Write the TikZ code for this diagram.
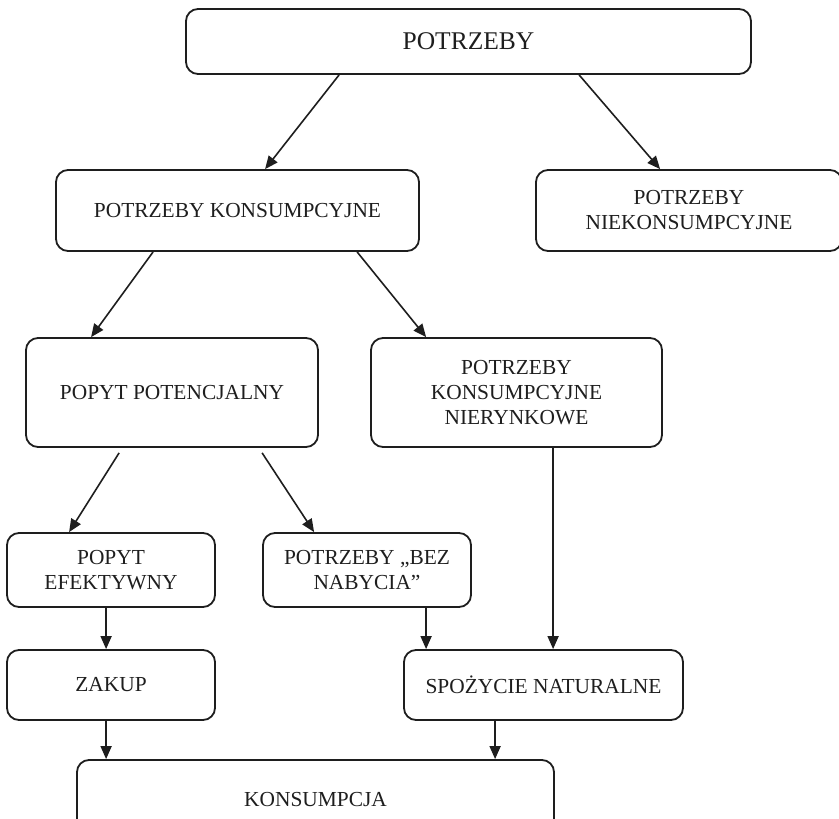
\documentclass[tikz,border=0pt]{standalone}
\usepackage{fontspec}
\setmainfont{Liberation Serif}
\usetikzlibrary{arrows.meta}
\definecolor{ink}{HTML}{1E1E1E}
\begin{document}
\begin{tikzpicture}[x=1pt,y=-1pt,
  box/.style={draw=ink, line width=1.8pt, rounded corners=12pt, inner sep=0pt,
    text=ink, align=center, font=\fontsize{21.4}{25}\selectfont},
  titlebox/.style={box, font=\fontsize{25.5}{30}\selectfont},
  arr/.style={draw=ink, line width=1.6pt, -{Triangle[length=13pt,width=11pt]}}]
\useasboundingbox (0,0) rectangle (839,819);
\clip (0,0) rectangle (839,819);
\node[titlebox, minimum width=565pt, minimum height=65pt] (top) at (468.5,41.5) {POTRZEBY};
\node[box, minimum width=363pt, minimum height=81pt] (pk) at (237.5,210.5) {POTRZEBY KONSUMPCYJNE};
\node[box, minimum width=306pt, minimum height=81pt] (pn) at (689,210.5) {POTRZEBY\\NIEKONSUMPCYJNE};
\node[box, minimum width=292pt, minimum height=109pt] (pp) at (172,392.5) {POPYT POTENCJALNY};
\node[box, minimum width=291pt, minimum height=109pt] (nr) at (516.5,392.5) {POTRZEBY\\KONSUMPCYJNE\\NIERYNKOWE};
\node[box, minimum width=208pt, minimum height=74pt] (pe) at (111,570) {POPYT\\EFEKTYWNY};
\node[box, minimum width=208pt, minimum height=74pt] (bez) at (367,570) {POTRZEBY „BEZ\\NABYCIA”};
\node[box, minimum width=208pt, minimum height=70pt] (zak) at (111,685) {ZAKUP};
\node[box, minimum width=279pt, minimum height=70pt] (sn) at (543.5,685) {SPOŻYCIE NATURALNE};
\node[box, minimum width=477pt, minimum height=80pt] (kon) at (315.5,800) {KONSUMPCJA};

\draw[arr] ([xshift=154pt]top.south west) -- ([xshift=210pt]pk.north west);
\draw[arr] ([xshift=394pt]top.south west) -- ([xshift=125pt]pn.north west);
\draw[arr] ([xshift=98pt]pk.south west) -- ([xshift=66pt]pp.north west);
\draw[arr] ([xshift=302pt]pk.south west) -- ([xshift=56pt]nr.north west);
\draw[arr] ([xshift=94pt,yshift=-5pt]pp.south west) -- ([xshift=63pt]pe.north west);
\draw[arr] ([xshift=237pt,yshift=-5pt]pp.south west) -- ([xshift=52pt]bez.north west);
\draw[arr] ([xshift=100pt]pe.south west) -- ([xshift=100pt]zak.north west);
\draw[arr] ([xshift=164pt]bez.south west) -- ([xshift=23pt]sn.north west);
\draw[arr] ([xshift=183pt]nr.south west) -- ([xshift=150pt]sn.north west);
\draw[arr] ([xshift=100pt]zak.south west) -- ([xshift=30pt]kon.north west);
\draw[arr] ([xshift=92pt]sn.south west) -- ([xshift=419pt]kon.north west);
\end{tikzpicture}
\end{document}
